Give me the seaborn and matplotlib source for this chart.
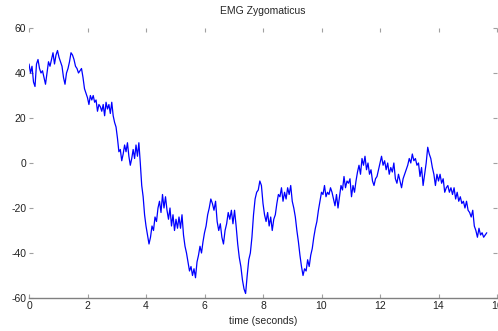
import numpy as np
import pandas as pd
import matplotlib
matplotlib.use("Agg")
import matplotlib.pyplot as plt
import seaborn as sns

# chunk boundaries (seconds) and values
chunk_edges = [0, 2, 4, 6, 8, 10, 12, 14, 15.65]
chunk_values = [
    [44, 40, 43, 36, 34, 44, 46, 42, 40, 41, 38, 35, 40, 45, 43, 46, 49, 44, 48, 50,
     47, 45, 43, 38, 35, 40, 42, 45, 49, 48, 46, 43, 42, 40, 41, 42, 38, 33, 31],
    [29, 26, 30, 28, 30, 27, 28, 23, 26, 25, 23, 26, 21, 27, 24, 26, 22, 27, 21, 18,
     16, 11, 5, 6, 1, 4, 8, 5, 9, 3, -1, 2, 6, 2, 8, 3, 9, 0, -10, -15, -23],
    [-28, -32, -36, -33, -28, -30, -24, -26, -20, -17, -22, -14, -20, -15, -21, -25,
     -20, -28, -23, -30, -25, -29, -24, -29, -23, -32, -37, -40, -44, -48, -46, -50,
     -47, -51, -44, -41, -37, -40, -35],
    [-31, -28, -23, -20, -16, -18, -21, -17, -26, -30, -27, -33, -36, -30, -27, -22,
     -25, -21, -27, -21, -28, -36, -42, -46, -52, -56, -58, -50, -43, -40, -33, -23,
     -16, -13, -12, -8, -10],
    [-18, -23, -26, -22, -28, -24, -30, -25, -23, -18, -14, -15, -11, -17, -13, -16,
     -11, -14, -10, -17, -20, -24, -30, -35, -41, -46, -50, -47, -48, -43, -46, -41,
     -38, -33, -29, -26, -21, -17],
    [-13, -14, -10, -15, -13, -14, -11, -13, -16, -19, -14, -20, -15, -10, -12, -6,
     -11, -8, -9, -7, -15, -10, -13, -8, -4, -1, -5, 2, -1, 3, -3, 0, -5, -3, -8,
     -10, -7, -6, -3],
    [0, 3, -1, 1, -3, 0, -5, -2, -4, 0, -7, -9, -5, -8, -11, -7, -5, -3, -1, 2, 0,
     4, 1, 2, -1, 0, -6, -2, -10, -5, 0, 7, 4, 2, -2, -5, -10, -5],
    [-8, -5, -9, -7, -13, -11, -10, -13, -11, -14, -11, -16, -13, -17, -15, -18, -17,
     -20, -17, -21, -22, -24, -21, -28, -30, -33, -29, -32, -31, -33, -32, -31],
]

x_ticks = [0, 2, 4, 6, 8, 10, 12, 14, 16]
y_ticks = [-60, -40, -20, 0, 20, 40, 60]
title = "EMG Zygomaticus"
x_label = "time (seconds)"

times, vals = [], []
n_chunks = len(chunk_values)
for i, v in enumerate(chunk_values):
    last = i == n_chunks - 1
    t = np.linspace(chunk_edges[i], chunk_edges[i + 1], len(v), endpoint=last)
    times.extend(t)
    vals.extend(v)
df = pd.DataFrame({"t": times, "v": vals})

sns.set_style("white")
plt.rcParams["font.family"] = ["Liberation Sans", "DejaVu Sans"]

fig = plt.figure(figsize=(4.98, 3.31), dpi=100)
ax = fig.add_axes([29 / 498, 33 / 331, 468 / 498, 270 / 331])
sns.lineplot(data=df, x="t", y="v", ax=ax, color="#0000ff", linewidth=0.9)

ax.set_xlim(0, 16)
ax.set_ylim(-60, 60)
ax.set_xticks(x_ticks)
ax.set_yticks(y_ticks)
ax.set_xticklabels([str(x) for x in x_ticks])
ax.set_yticklabels([str(y).replace("\u2212", "-") for y in y_ticks])
ax.set_title(title, fontsize=7.5, pad=10)
ax.set_xlabel(x_label, fontsize=7.5, labelpad=4)
ax.set_ylabel("")

for s in ["left", "top", "right"]:
    ax.spines[s].set_visible(False)
ax.spines["bottom"].set_color("#808080")
ax.spines["bottom"].set_linewidth(1.0)
ax.tick_params(direction="in", length=3, width=0.8, colors="#a0a0a0",
               labelcolor="#222222", labelsize=7.5, pad=2,
               top=True, right=True, bottom=True, left=True)

fig.savefig("out.png", dpi=100)
